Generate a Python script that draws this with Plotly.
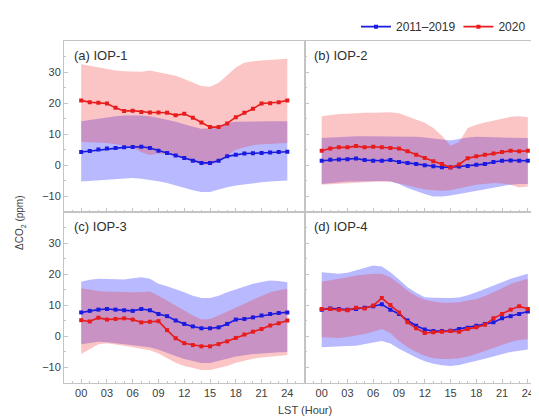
import plotly.graph_objects as go

hours = list(range(25))
tick_vals = [0, 3, 6, 9, 12, 15, 18, 21, 24]
tick_text = ["00", "03", "06", "09", "12", "15", "18", "21", "24"]
panel_labels = ["(a) IOP-1", "(b) IOP-2", "(c) IOP-3", "(d) IOP-4"]
series_names = ["2011–2019", "2020"]

# ---- (a) IOP-1 ----
a_clim_mean = [4.3, 4.6, 5.1, 5.4, 5.6, 5.8, 5.9, 6.0, 5.6, 4.7, 4.0, 3.2, 2.4, 1.5, 0.8, 0.8, 1.5, 2.9, 3.4, 3.8, 3.9, 4.0, 4.1, 4.3, 4.4]
a_clim_upper = [14.2, 14.6, 15.0, 15.5, 15.8, 16.0, 16.1, 16.0, 15.8, 15.3, 14.7, 14.0, 13.1, 12.4, 11.8, 11.9, 12.6, 13.7, 14.0, 14.1, 14.2, 14.2, 14.2, 14.2, 14.2]
a_clim_lower = [-5.2, -5.0, -4.8, -4.6, -4.3, -4.1, -4.1, -4.3, -4.6, -5.1, -5.7, -6.5, -7.3, -8.0, -8.6, -8.6, -7.8, -7.0, -6.5, -6.1, -5.7, -5.4, -5.2, -5.0, -4.9]
a_2020_mean = [20.9, 20.3, 20.1, 19.9, 18.5, 17.5, 17.6, 17.2, 17.0, 17.0, 16.9, 16.1, 16.6, 15.3, 13.8, 12.3, 12.3, 13.5, 15.5, 16.9, 18.2, 19.9, 20.0, 20.3, 20.9]
a_2020_upper = [32.5, 32.0, 31.5, 30.9, 30.5, 30.3, 30.2, 30.1, 30.5, 30.0, 29.5, 28.8, 27.8, 26.6, 25.5, 25.3, 26.6, 29.0, 31.5, 33.0, 33.5, 33.7, 33.9, 34.1, 34.3]
a_2020_lower = [7.5, 7.4, 7.3, 7.2, 6.8, 6.3, 5.8, 4.2, 3.3, 3.8, 3.6, 3.0, 2.3, 1.2, 0.3, 0.1, 1.2, 3.2, 5.0, 5.8, 6.5, 6.8, 7.0, 7.1, 7.2]

# ---- (b) IOP-2 ----
b_clim_mean = [1.5, 1.8, 1.9, 2.0, 2.2, 1.7, 1.5, 1.5, 1.7, 1.1, 0.8, 0.4, 0.0, -0.3, -0.6, -0.6, -0.4, -0.2, 0.2, 0.4, 1.1, 1.5, 1.6, 1.5, 1.5]
b_clim_upper = [8.8, 9.0, 9.2, 9.4, 9.4, 9.4, 9.4, 9.4, 9.4, 9.4, 9.3, 9.2, 9.0, 8.6, 8.3, 8.0, 8.5, 9.0, 9.2, 9.2, 9.1, 9.0, 8.9, 8.8, 8.8]
b_clim_lower = [-6.0, -5.7, -5.4, -5.2, -5.2, -5.1, -5.0, -5.0, -5.2, -6.0, -7.3, -8.3, -9.2, -10.0, -10.0, -9.7, -9.2, -8.7, -8.2, -7.6, -7.1, -6.6, -6.2, -6.0, -6.0]
b_2020_mean = [4.7, 5.4, 5.8, 5.8, 6.2, 5.8, 6.0, 5.8, 5.6, 5.4, 4.5, 3.4, 2.4, 1.3, 0.4, -0.7, 0.3, 2.3, 2.9, 3.4, 3.8, 4.3, 4.7, 4.5, 4.7]
b_2020_upper = [15.8, 16.2, 16.5, 16.6, 16.8, 16.9, 16.9, 17.0, 17.1, 16.8, 15.8, 14.8, 13.7, 12.0, 9.5, 6.3, 7.5, 12.0, 13.1, 13.8, 14.4, 15.0, 15.6, 15.8, 15.5]
b_2020_lower = [-6.2, -6.0, -5.8, -5.7, -5.5, -5.4, -5.3, -5.2, -5.2, -5.8, -6.5, -7.2, -7.8, -8.0, -8.2, -8.0, -7.3, -6.8, -6.2, -6.0, -5.7, -5.8, -6.2, -7.1, -6.8]

# ---- (c) IOP-3 ----
c_clim_mean = [7.7, 8.2, 8.6, 8.8, 8.6, 8.4, 8.2, 8.8, 8.4, 7.2, 6.5, 5.1, 4.0, 3.2, 2.6, 2.6, 2.9, 4.0, 5.4, 5.6, 6.1, 6.7, 7.2, 7.5, 7.7]
c_clim_upper = [17.6, 18.2, 18.5, 18.5, 18.5, 18.3, 18.7, 19.0, 18.5, 16.9, 16.1, 15.2, 14.2, 13.1, 12.3, 12.3, 13.1, 14.2, 15.1, 16.0, 16.9, 17.5, 18.0, 17.8, 17.4]
c_clim_lower = [-2.5, -2.0, -1.7, -1.9, -2.2, -2.5, -2.8, -3.2, -3.5, -4.3, -5.2, -6.3, -7.3, -8.0, -8.6, -8.6, -7.8, -7.2, -6.5, -6.0, -5.7, -5.5, -5.2, -5.1, -5.0]
c_2020_mean = [5.2, 4.8, 6.0, 5.4, 5.6, 5.8, 5.4, 4.5, 4.7, 4.9, 2.0, -0.6, -2.2, -2.8, -3.2, -3.2, -2.5, -1.6, -0.5, 0.6, 1.5, 2.4, 3.5, 4.2, 5.1]
c_2020_upper = [15.5, 15.0, 14.6, 14.4, 14.3, 14.2, 14.2, 14.3, 14.4, 13.1, 11.5, 9.8, 8.3, 6.7, 5.4, 5.6, 6.7, 8.0, 9.4, 10.6, 11.8, 13.0, 14.2, 14.8, 15.3]
c_2020_lower = [-5.7, -4.0, -2.5, -2.2, -2.5, -3.0, -3.5, -4.0, -4.5, -5.5, -7.0, -8.5, -9.5, -10.2, -10.8, -10.8, -10.2, -9.5, -8.5, -7.8, -7.2, -6.8, -6.5, -6.2, -6.0]

# ---- (d) IOP-4 ----
d_clim_mean = [8.6, 9.0, 8.8, 8.6, 8.8, 9.2, 9.7, 10.3, 8.6, 7.2, 5.1, 3.4, 2.2, 1.7, 1.7, 1.8, 2.4, 2.8, 3.4, 4.0, 4.5, 5.8, 6.5, 7.2, 8.0]
d_clim_upper = [20.6, 20.4, 20.1, 20.5, 21.2, 22.0, 22.8, 22.5, 20.6, 18.3, 15.8, 14.0, 12.6, 12.4, 12.3, 12.3, 12.5, 13.2, 14.2, 15.2, 16.3, 17.4, 18.5, 19.4, 20.1]
d_clim_lower = [-3.5, -3.3, -3.2, -3.1, -3.0, -2.6, -2.0, -1.5, -2.3, -4.0, -5.5, -6.8, -8.0, -8.8, -9.3, -9.5, -9.2, -8.6, -8.0, -7.2, -6.5, -5.8, -5.0, -4.6, -4.2]
d_2020_mean = [8.8, 8.8, 8.6, 8.4, 9.2, 9.0, 9.9, 12.3, 10.1, 7.7, 4.5, 2.6, 1.1, 1.3, 1.5, 1.7, 1.5, 2.4, 2.9, 3.7, 5.8, 7.2, 8.6, 9.7, 8.8]
d_2020_upper = [17.6, 18.0, 18.5, 19.0, 19.6, 19.9, 20.1, 20.1, 19.0, 17.0, 14.7, 13.0, 11.8, 11.2, 10.8, 10.8, 11.0, 11.5, 12.0, 13.0, 14.2, 15.5, 16.9, 17.8, 18.5]
d_2020_lower = [-0.3, -0.4, -0.5, -0.2, 0.2, 0.8, 1.5, 2.4, 1.0, -1.5, -3.5, -5.0, -6.2, -7.0, -7.3, -7.3, -7.0, -6.5, -5.7, -4.8, -3.8, -2.8, -1.8, -1.2, -0.9]

panels = [
    (a_clim_mean, a_clim_upper, a_clim_lower, a_2020_mean, a_2020_upper, a_2020_lower),
    (b_clim_mean, b_clim_upper, b_clim_lower, b_2020_mean, b_2020_upper, b_2020_lower),
    (c_clim_mean, c_clim_upper, c_clim_lower, c_2020_mean, c_2020_upper, c_2020_lower),
    (d_clim_mean, d_clim_upper, d_clim_lower, d_2020_mean, d_2020_upper, d_2020_lower),
]

BLUE = "#1a1ae0"
RED = "#e81c1c"
BLUE_FILL = "rgba(60,60,255,0.36)"
RED_FILL = "rgba(245,40,40,0.27)"
FONT = "Liberation Sans, Arial"

axis_names = [("x", "y"), ("x2", "y2"), ("x3", "y3"), ("x4", "y4")]
x_domains = [[0, 0.5], [0.5, 1], [0, 0.5], [0.5, 1]]
y_domains = [[0.5, 1], [0.5, 1], [0, 0.5], [0, 0.5]]

fig = go.Figure()
for i, (cm, cu, cl, rm, ru, rl) in enumerate(panels):
    xa, ya = axis_names[i]
    fig.add_trace(go.Scatter(x=hours, y=cl, xaxis=xa, yaxis=ya, mode="lines",
                             line=dict(width=0), showlegend=False, hoverinfo="skip"))
    fig.add_trace(go.Scatter(x=hours, y=cu, xaxis=xa, yaxis=ya, mode="lines",
                             line=dict(width=0), fill="tonexty", fillcolor=BLUE_FILL,
                             showlegend=False, hoverinfo="skip"))
    fig.add_trace(go.Scatter(x=hours, y=rl, xaxis=xa, yaxis=ya, mode="lines",
                             line=dict(width=0), showlegend=False, hoverinfo="skip"))
    fig.add_trace(go.Scatter(x=hours, y=ru, xaxis=xa, yaxis=ya, mode="lines",
                             line=dict(width=0), fill="tonexty", fillcolor=RED_FILL,
                             showlegend=False, hoverinfo="skip"))
for i, (cm, cu, cl, rm, ru, rl) in enumerate(panels):
    xa, ya = axis_names[i]
    fig.add_trace(go.Scatter(x=hours, y=cm, xaxis=xa, yaxis=ya, mode="lines+markers",
                             name=series_names[0], line=dict(color=BLUE, width=1.6),
                             marker=dict(color=BLUE, size=4, symbol="square"),
                             showlegend=(i == 0), legend="legend"))
    fig.add_trace(go.Scatter(x=hours, y=rm, xaxis=xa, yaxis=ya, mode="lines+markers",
                             name=series_names[1], line=dict(color=RED, width=1.6),
                             marker=dict(color=RED, size=4, symbol="square"),
                             showlegend=(i == 0), legend="legend2"))

axis_common = dict(showline=True, linecolor="#c4c4c4", linewidth=1, mirror=True,
                   ticks="inside", ticklen=4, tickcolor="#c4c4c4", showgrid=False,
                   zeroline=False, tickfont=dict(family=FONT, size=11, color="#404040"))

legend_common = dict(orientation="h", xanchor="left", y=1.042, yanchor="middle",
                     font=dict(family=FONT, size=12, color="#303030"),
                     itemwidth=30, bgcolor="rgba(0,0,0,0)", borderwidth=0)

layout = dict(
    width=539, height=416,
    margin=dict(l=56, r=2, t=33, b=41, autoexpand=False),
    paper_bgcolor="white", plot_bgcolor="white",
    showlegend=True,
    legend=dict(legend_common, x=0.607),
    legend2=dict(legend_common, x=0.82),
)
for i in range(4):
    sfx = "" if i == 0 else str(i + 1)
    xa = dict(axis_common)
    xa.update(domain=x_domains[i], range=[-2, 26], tickvals=tick_vals, ticktext=tick_text,
              showticklabels=(i >= 2), anchor="y" + sfx,
              minor=dict(dtick=1, tick0=0, ticks="inside", ticklen=2, tickcolor="#c4c4c4"))
    ya = dict(axis_common)
    ya.update(domain=y_domains[i], range=[-15, 40], tickvals=[-10, 0, 10, 20, 30],
              showticklabels=(i % 2 == 0), anchor="x" + sfx,
              minor=dict(dtick=5, tick0=0, ticks="inside", ticklen=2, tickcolor="#c4c4c4"))
    layout["xaxis" + sfx] = xa
    layout["yaxis" + sfx] = ya

fig.update_layout(**layout)

label_pos = [(0, 1), (0.5, 1), (0, 0.5), (0.5, 0.5)]
for i, lab in enumerate(panel_labels):
    lx, ly = label_pos[i]
    fig.add_annotation(text=lab, xref="paper", yref="paper", x=lx + 0.016, y=ly - 0.015,
                       xanchor="left", yanchor="top", showarrow=False,
                       font=dict(family=FONT, size=13, color="#303030"))

fig.add_annotation(text="LST (Hour)", xref="paper", yref="paper", x=0.5, y=-0.079,
                   xanchor="center", yanchor="middle", showarrow=False,
                   font=dict(family=FONT, size=11, color="#404040"))
fig.add_annotation(text="ΔCO<sub>2</sub> (ppm)", xref="paper", yref="paper", x=-0.09, y=0.47,
                   xanchor="center", yanchor="middle", textangle=-90, showarrow=False,
                   font=dict(family=FONT, size=10, color="#404040"))

fig.write_html("out.html")
